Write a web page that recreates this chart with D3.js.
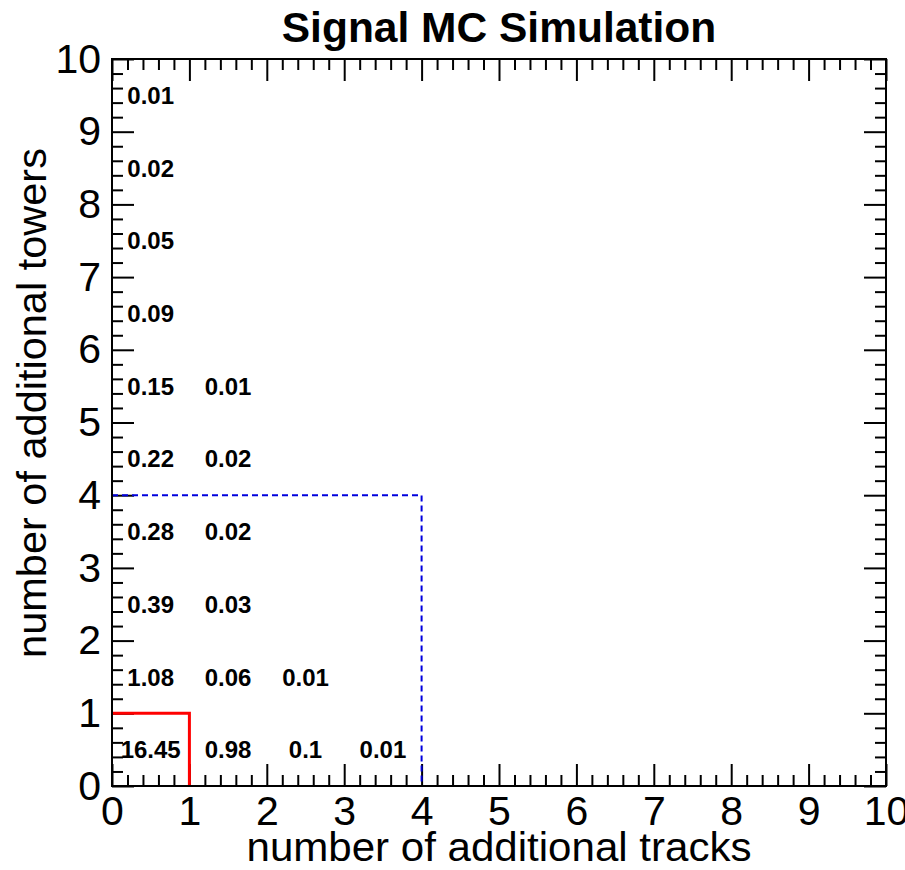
<!DOCTYPE html>
<html>
<head>
<meta charset="utf-8">
<script src="https://cdn.jsdelivr.net/npm/d3@7/dist/d3.min.js"></script>
<style>
  html, body { margin: 0; padding: 0; background: #fff; }
  svg { display: block; font-family: "Liberation Sans", Arial, Helvetica, sans-serif; }
</style>
</head>
<body>
<svg id="chart" width="905" height="870"></svg>
<script>
// Fraction (%) of signal events per (additional tracks, additional towers) bin.
const trackBins = [0, 1, 2, 3, 4, 5, 6, 7, 8, 9];
const towerBins = [0, 1, 2, 3, 4, 5, 6, 7, 8, 9];
const towers0 = [16.45, 0.98, 0.1, 0.01];
const towers1 = [1.08, 0.06, 0.01];
const towers2 = [0.39, 0.03];
const towers3 = [0.28, 0.02];
const towers4 = [0.22, 0.02];
const towers5 = [0.15, 0.01];
const towers6 = [0.09];
const towers7 = [0.05];
const towers8 = [0.02];
const towers9 = [0.01];
const towerRows = [towers0, towers1, towers2, towers3, towers4, towers5, towers6, towers7, towers8, towers9];

const xTickLabels = ["0", "1", "2", "3", "4", "5", "6", "7", "8", "9", "10"];
const yTickLabels = ["0", "1", "2", "3", "4", "5", "6", "7", "8", "9", "10"];

// Selection boxes: tight cut (red) and loose cut (blue dashed)
const tightCut = { tracks: 1, towers: 1 };
const looseCut = { tracks: 4, towers: 4 };

const title = "Signal MC Simulation";
const xTitle = "number of additional tracks";
const yTitle = "number of additional towers";

const svg = d3.select("#chart");
const frame = { left: 112, right: 886, top: 59, bottom: 786 };

const x = d3.scaleLinear().domain([0, 10]).range([frame.left, frame.right]);
const y = d3.scaleLinear().domain([0, 10]).range([frame.bottom, frame.top]);

const majorTicks = d3.range(0, 11);
const minorTicks = d3.range(0, 50).map(i => i / 5).filter(v => Math.abs(v - Math.round(v)) > 1e-6);
const majorLen = 22, minorLen = 11;

function styleAxis(g) {
  g.select(".domain").remove();
  g.selectAll(".tick line").attr("stroke", "#000").attr("stroke-width", 2);
}

// bottom: labelled major ticks, inward
svg.append("g")
  .attr("transform", `translate(0,${frame.bottom})`)
  .call(d3.axisBottom(x).tickValues(majorTicks).tickSize(-majorLen).tickPadding(10)
    .tickFormat((d, i) => xTickLabels[i]))
  .call(styleAxis)
  .call(g => g.selectAll("text").attr("font-size", 41).attr("fill", "#000")
    .attr("font-family", "'Liberation Sans', Arial, sans-serif"));
svg.append("g")
  .attr("transform", `translate(0,${frame.bottom})`)
  .call(d3.axisBottom(x).tickValues(minorTicks).tickSize(-minorLen).tickFormat(""))
  .call(styleAxis);

// top: ticks only
svg.append("g")
  .attr("transform", `translate(0,${frame.top})`)
  .call(d3.axisTop(x).tickValues(majorTicks).tickSize(-majorLen).tickFormat(""))
  .call(styleAxis);
svg.append("g")
  .attr("transform", `translate(0,${frame.top})`)
  .call(d3.axisTop(x).tickValues(minorTicks).tickSize(-minorLen).tickFormat(""))
  .call(styleAxis);

// left: labelled
svg.append("g")
  .attr("transform", `translate(${frame.left},0)`)
  .call(d3.axisLeft(y).tickValues(majorTicks).tickSize(-majorLen).tickPadding(11)
    .tickFormat((d, i) => yTickLabels[i]))
  .call(styleAxis)
  .call(g => g.selectAll("text").attr("font-size", 41).attr("fill", "#000")
    .attr("font-family", "'Liberation Sans', Arial, sans-serif"));
svg.append("g")
  .attr("transform", `translate(${frame.left},0)`)
  .call(d3.axisLeft(y).tickValues(minorTicks).tickSize(-minorLen).tickFormat(""))
  .call(styleAxis);

// right: ticks only
svg.append("g")
  .attr("transform", `translate(${frame.right},0)`)
  .call(d3.axisRight(y).tickValues(majorTicks).tickSize(-majorLen).tickFormat(""))
  .call(styleAxis);
svg.append("g")
  .attr("transform", `translate(${frame.right},0)`)
  .call(d3.axisRight(y).tickValues(minorTicks).tickSize(-minorLen).tickFormat(""))
  .call(styleAxis);

// cut boxes
const cutPath = c => {
  const p = d3.path();
  p.moveTo(x(0), y(c.towers));
  p.lineTo(x(c.tracks), y(c.towers));
  p.lineTo(x(c.tracks), y(0));
  return p.toString();
};
svg.append("path").attr("d", cutPath(looseCut))
  .attr("fill", "none").attr("stroke", "#0000dd").attr("stroke-width", 2)
  .attr("stroke-dasharray", "6,4");
svg.append("path").attr("d", cutPath(tightCut))
  .attr("fill", "none").attr("stroke", "#ff0000").attr("stroke-width", 3);

// frame
svg.append("rect")
  .attr("x", frame.left).attr("y", frame.top)
  .attr("width", frame.right - frame.left).attr("height", frame.bottom - frame.top)
  .attr("fill", "none").attr("stroke", "#000").attr("stroke-width", 2);

// bin contents
const cells = [];
towerRows.forEach((row, j) => row.forEach((v, i) => cells.push({ tx: trackBins[i], ty: towerBins[j], v })));
svg.append("g").selectAll("text").data(cells).join("text")
  .attr("x", d => x(d.tx + 0.5))
  .attr("y", d => y(d.ty + 0.5))
  .attr("dy", "0.36em")
  .attr("text-anchor", "middle")
  .attr("font-size", 24)
  .attr("font-weight", "bold")
  .text(d => String(d.v));

// titles
svg.append("text")
  .attr("x", (frame.left + frame.right) / 2).attr("y", 42)
  .attr("text-anchor", "middle").attr("font-size", 42.5).attr("font-weight", "bold")
  .text(title);
svg.append("text")
  .attr("x", (frame.left + frame.right) / 2).attr("y", 861)
  .attr("text-anchor", "middle").attr("font-size", 40)
  .attr("textLength", 505).attr("lengthAdjust", "spacingAndGlyphs")
  .text(xTitle);
svg.append("text")
  .attr("transform", `translate(46,403) rotate(-90)`)
  .attr("text-anchor", "middle").attr("font-size", 41.5)
  .text(yTitle);
</script>
</body>
</html>
